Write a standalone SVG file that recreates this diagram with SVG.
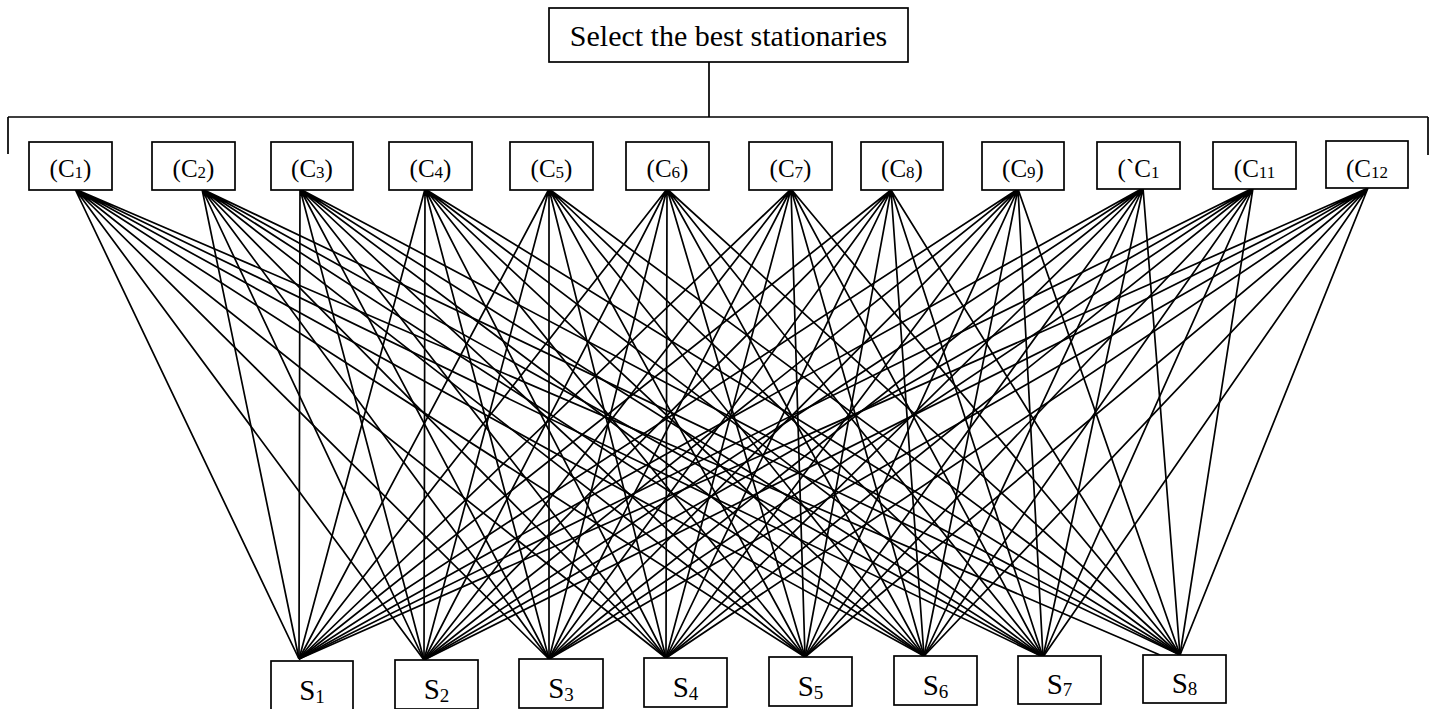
<svg xmlns="http://www.w3.org/2000/svg" width="1434" height="709" viewBox="0 0 1434 709">
<style>
.box{fill:#fff;stroke:#000;stroke-width:1.7}
.ln{fill:none;stroke:#000;stroke-width:1.7}
.t{font-family:"Liberation Serif","Times New Roman",serif;fill:#000;text-anchor:middle}
.c{font-size:25px}
.s{font-size:29px}
.sub{font-size:17px}
.subs{font-size:19px}
</style>
<rect width="1434" height="709" fill="#fff"/>
<g id="connectors" class="ln">
<path d="M709,62 V117 M8,117 H1428 M8,117 V154 M1428,117 V155"/>
<path d="M75,189 L299,659 M75,189 L424,660 M75,189 L549,659 M75,189 L666,658 M75,189 L805,657 M75,189 L924,656 M75,189 L1043,657 M75,189 L1160,655"/>
<path d="M202,189 L299,659 M202,189 L424,660 M202,189 L549,659 M202,189 L666,658 M202,189 L805,657 M202,189 L924,656 M202,189 L1043,657 M202,189 L1180,655"/>
<path d="M300,189 L299,659 M300,189 L424,660 M300,189 L549,659 M300,189 L666,658 M300,189 L805,657 M300,189 L924,656 M300,189 L1043,657 M300,189 L1180,655"/>
<path d="M425,189 L299,659 M425,189 L424,660 M425,189 L549,659 M425,189 L666,658 M425,189 L805,657 M425,189 L924,656 M425,189 L1043,657 M425,189 L1180,655"/>
<path d="M549,189 L299,659 M549,189 L424,660 M549,189 L549,659 M549,189 L666,658 M549,189 L805,657 M549,189 L924,656 M549,189 L1043,657 M549,189 L1180,655"/>
<path d="M667,189 L299,659 M667,189 L424,660 M667,189 L549,659 M667,189 L666,658 M667,189 L805,657 M667,189 L924,656 M667,189 L1043,657 M667,189 L1180,655"/>
<path d="M791,189 L299,659 M791,189 L424,660 M791,189 L549,659 M791,189 L666,658 M791,189 L805,657 M791,189 L924,656 M791,189 L1043,657 M791,189 L1180,655"/>
<path d="M891,190 L299,659 M891,190 L424,660 M891,190 L549,659 M891,190 L666,658 M891,190 L805,657 M891,190 L924,656 M891,190 L1043,657 M891,190 L1180,655"/>
<path d="M1018,189 L299,659 M1018,189 L424,660 M1018,189 L549,659 M1018,189 L666,658 M1018,189 L805,657 M1018,189 L924,656 M1018,189 L1043,657 M1018,189 L1180,655"/>
<path d="M1143,188 L299,659 M1143,188 L424,660 M1143,188 L549,659 M1143,188 L666,658 M1143,188 L805,657 M1143,188 L924,656 M1143,188 L1043,657 M1143,188 L1180,655"/>
<path d="M1253,188 L299,659 M1253,188 L424,660 M1253,188 L549,659 M1253,188 L666,658 M1253,188 L805,657 M1253,188 L924,656 M1253,188 L1043,657 M1253,188 L1180,655"/>
<path d="M1368,188 L299,659 M1368,188 L424,660 M1368,188 L549,659 M1368,188 L666,658 M1368,188 L805,657 M1368,188 L924,656 M1368,188 L1043,657 M1368,188 L1180,655"/>
</g>
<g id="goal"><rect class="box" x="549" y="8" width="359" height="54"/><text class="t" x="728.5" y="46" font-size="30">Select the best stationaries</text></g>
<g id="C1"><rect class="box" x="29" y="142" width="83" height="48"/><text class="t c" x="70.5" y="177">(C<tspan class="sub" dy="1">1</tspan><tspan dy="-1">)</tspan></text></g>
<g id="C2"><rect class="box" x="152" y="142" width="83" height="48"/><text class="t c" x="193.5" y="177">(C<tspan class="sub" dy="1">2</tspan><tspan dy="-1">)</tspan></text></g>
<g id="C3"><rect class="box" x="271" y="142" width="82" height="48"/><text class="t c" x="312" y="177">(C<tspan class="sub" dy="1">3</tspan><tspan dy="-1">)</tspan></text></g>
<g id="C4"><rect class="box" x="389" y="142" width="83" height="48"/><text class="t c" x="430.5" y="177">(C<tspan class="sub" dy="1">4</tspan><tspan dy="-1">)</tspan></text></g>
<g id="C5"><rect class="box" x="510" y="142" width="83" height="48"/><text class="t c" x="551.5" y="177">(C<tspan class="sub" dy="1">5</tspan><tspan dy="-1">)</tspan></text></g>
<g id="C6"><rect class="box" x="626" y="142" width="83" height="48"/><text class="t c" x="667.5" y="177">(C<tspan class="sub" dy="1">6</tspan><tspan dy="-1">)</tspan></text></g>
<g id="C7"><rect class="box" x="749" y="142" width="83" height="48"/><text class="t c" x="790.5" y="177">(C<tspan class="sub" dy="1">7</tspan><tspan dy="-1">)</tspan></text></g>
<g id="C8"><rect class="box" x="861" y="142" width="82" height="48"/><text class="t c" x="902" y="177">(C<tspan class="sub" dy="1">8</tspan><tspan dy="-1">)</tspan></text></g>
<g id="C9"><rect class="box" x="982" y="142" width="82" height="48"/><text class="t c" x="1023" y="177">(C<tspan class="sub" dy="1">9</tspan><tspan dy="-1">)</tspan></text></g>
<g id="C10"><rect class="box" x="1097" y="142" width="83" height="47"/><text class="t c" x="1138.5" y="177">(`C<tspan class="sub" dy="1">1</tspan></text></g>
<g id="C11"><rect class="box" x="1213" y="142" width="83" height="47"/><text class="t c" x="1254.5" y="177">(C<tspan class="sub" dy="1">11</tspan></text></g>
<g id="C12"><rect class="box" x="1326" y="141" width="82" height="47"/><text class="t c" x="1367" y="177">(C<tspan class="sub" dy="1">12</tspan></text></g>
<g id="S1"><rect class="box" x="271" y="661" width="82" height="49"/><text class="t s" x="312" y="700">S<tspan class="subs" dy="3">1</tspan></text></g>
<g id="S2"><rect class="box" x="395" y="660" width="83" height="49"/><text class="t s" x="436.5" y="699">S<tspan class="subs" dy="3">2</tspan></text></g>
<g id="S3"><rect class="box" x="519" y="659" width="84" height="49"/><text class="t s" x="561" y="698">S<tspan class="subs" dy="3">3</tspan></text></g>
<g id="S4"><rect class="box" x="644" y="658" width="83" height="49"/><text class="t s" x="685.5" y="697">S<tspan class="subs" dy="3">4</tspan></text></g>
<g id="S5"><rect class="box" x="769" y="657" width="83" height="49"/><text class="t s" x="810.5" y="696">S<tspan class="subs" dy="3">5</tspan></text></g>
<g id="S6"><rect class="box" x="894" y="656" width="83" height="49"/><text class="t s" x="935.5" y="695">S<tspan class="subs" dy="3">6</tspan></text></g>
<g id="S7"><rect class="box" x="1018" y="656" width="83" height="48"/><text class="t s" x="1059.5" y="694">S<tspan class="subs" dy="2">7</tspan></text></g>
<g id="S8"><rect class="box" x="1143" y="655" width="83" height="48"/><text class="t s" x="1184.5" y="693">S<tspan class="subs" dy="2">8</tspan></text></g>
</svg>
